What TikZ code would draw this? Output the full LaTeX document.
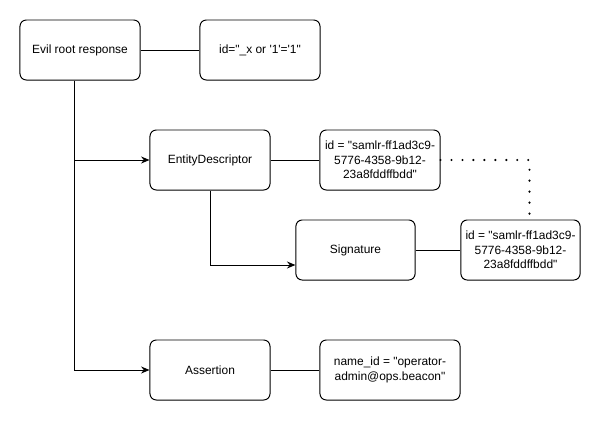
\documentclass[tikz,border=0pt]{standalone}
\usepackage{fontspec}
\newfontfamily\arialfont{Liberation Sans}
\usetikzlibrary{arrows.meta,positioning}

\begin{document}
\begin{tikzpicture}[x=0.025cm,y=-0.025cm,font=\arialfont\fontsize{8.5}{10.3}\selectfont,box/.style={draw,line width=0.7pt,rounded corners=4.5pt,align=center,minimum width=3cm,minimum height=1.5cm,inner sep=2pt},arr/.style={-{Stealth[length=6pt,width=5pt,inset=2pt]},line width=0.7pt},link/.style={line width=0.7pt},dots/.style={line width=1.7pt,line cap=round,dash pattern=on 0pt off 7.8pt}]
\useasboundingbox (0,0) rectangle (601,421);
\node[box] (root) at (80,50){Evil root response};
\node[box] (rootid) at (260,50){id="\_x or \textquotesingle 1\textquotesingle=\textquotesingle 1"};
\node[box] (entity) at (210,160){EntityDescriptor};
\node[box] (entid) at (380,160){id = "samlr-ff1ad3c9-\\5776-4358-9b12-\\23a8fddffbdd"};
\node[box,minimum width=2.98cm] (sig) at (355.5,250){Signature};
\node[box,minimum width=2.98cm] (sigid) at (520.5,250){id = "samlr-ff1ad3c9-\\5776-4358-9b12-\\23a8fddffbdd"};
\node[box] (assert) at (210,370){Assertion};
\node[box,minimum width=3.5cm] (assertid) at (390,370){name\_id = "operator-\\admin@ops.beacon"};
\draw[link] (root) -- (rootid);\draw[link] (entity) -- (entid);\draw[link] (sig) -- (sigid);\draw[link] (assert) -- (assertid);
\draw[arr] ([xshift=-0.15cm]root.south) |- (entity.west);\draw[arr] ([xshift=-0.15cm]root.south) |- (assert.west);
\draw[arr] (entity.south) |- ([yshift=-0.375cm]sig.west);
\draw[dots] (entid.east) -| ([xshift=0.225cm]sigid.north);
\end{tikzpicture}
\end{document}
